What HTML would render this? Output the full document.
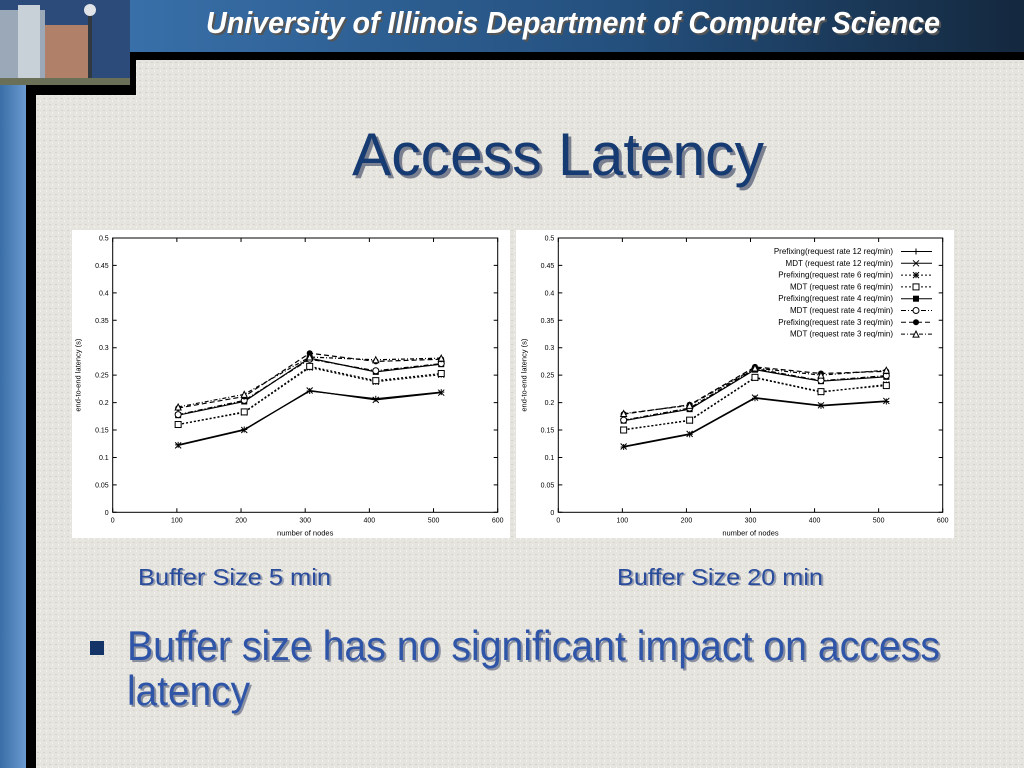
<!DOCTYPE html>
<html><head><meta charset="utf-8"><style>
html,body{margin:0;padding:0;width:1024px;height:768px;overflow:hidden;background:#e6e4de}
svg{display:block}
text{font-family:"Liberation Sans Narrow","Liberation Sans",sans-serif}
</style></head><body>
<svg id="slide" width="1024" height="768" viewBox="0 0 1024 768">
<defs>
<linearGradient id="hdr" x1="0" x2="1"><stop offset="0" stop-color="#3e78b4"/><stop offset="0.6" stop-color="#24507e"/><stop offset="1" stop-color="#14283e"/></linearGradient>
<linearGradient id="lstrip" x1="0" x2="1"><stop offset="0" stop-color="#3a6ea6"/><stop offset="1" stop-color="#6a9ad0"/></linearGradient>
<pattern id="tex" width="6" height="6" patternUnits="userSpaceOnUse"><rect width="6" height="6" fill="#e6e4de"/><rect x="1" y="2" width="2" height="1" fill="#d6d3cb"/><rect x="4" y="4" width="1" height="2" fill="#f2f1ec"/></pattern>
</defs>
<rect width="1024" height="768" fill="url(#tex)"/>
<rect x="0" y="0" width="1024" height="52" fill="url(#hdr)"/>
<rect x="130" y="52" width="894" height="8" fill="#000"/>
<rect x="0" y="85" width="26" height="683" fill="url(#lstrip)"/>
<rect x="26" y="85" width="10" height="683" fill="#000"/>
<rect x="26" y="85" width="44" height="10" fill="#000"/>
<rect x="60" y="52" width="76" height="43" fill="#000"/>
<g>
<rect x="0" y="0" width="130" height="85" fill="#2c4a7a"/>
<rect x="0" y="10" width="45" height="70" fill="#9aa8b8"/>
<rect x="18" y="5" width="22" height="75" fill="#c8d0d8"/>
<rect x="45" y="25" width="45" height="55" fill="#b08068"/>
<rect x="88" y="8" width="4" height="75" fill="#303840"/>
<circle cx="90" cy="10" r="6" fill="#e0e4e8"/>
<rect x="0" y="78" width="130" height="7" fill="#6a7058"/>
</g>
<text x="206" y="33" font-size="31" font-weight="bold" font-style="italic" fill="#555" textLength="734" lengthAdjust="spacingAndGlyphs" transform="translate(2,2)">University of Illinois Department of Computer Science</text>
<text x="206" y="33" font-size="31" font-weight="bold" font-style="italic" fill="#fff" textLength="734" lengthAdjust="spacingAndGlyphs">University of Illinois Department of Computer Science</text>
<text x="355" y="178" font-size="60" fill="#7a8090" textLength="412" lengthAdjust="spacingAndGlyphs">Access Latency</text>
<text x="352" y="175" font-size="60" fill="#163a72" textLength="412" lengthAdjust="spacingAndGlyphs">Access Latency</text>
<rect x="72" y="230" width="438" height="308" fill="#fff"/>
<rect x="516" y="230" width="438" height="308" fill="#fff"/>
<g id="chartL"></g>
<g id="chartR"></g>
<text x="139" y="585" font-size="23" fill="#9aa0b0" textLength="193" lengthAdjust="spacingAndGlyphs" transform="translate(1,1)">Buffer Size 5 min</text>
<text x="138" y="585" font-size="23" fill="#2a4c9c" textLength="193" lengthAdjust="spacingAndGlyphs">Buffer Size 5 min</text>
<text x="618" y="585" font-size="23" fill="#9aa0b0" textLength="206" lengthAdjust="spacingAndGlyphs" transform="translate(1,1)">Buffer Size 20 min</text>
<text x="617" y="585" font-size="23" fill="#2a4c9c" textLength="206" lengthAdjust="spacingAndGlyphs">Buffer Size 20 min</text>
<rect x="90" y="641" width="14" height="14" fill="#143468"/>
<g fill="#8a90a0" transform="translate(2,2)">
<text x="127" y="660" font-size="42" textLength="813" lengthAdjust="spacingAndGlyphs">Buffer size has no significant impact on access</text>
<text x="127" y="705" font-size="42" textLength="123" lengthAdjust="spacingAndGlyphs">latency</text></g>
<g fill="#2f55a8">
<text x="127" y="660" font-size="42" textLength="813" lengthAdjust="spacingAndGlyphs">Buffer size has no significant impact on access</text>
<text x="127" y="705" font-size="42" textLength="123" lengthAdjust="spacingAndGlyphs">latency</text></g>
</svg>
<script>
const nodes=[102,205,307,410,512];
const xTicks=[0,100,200,300,400,500,600];
const yTicks=[0,0.05,0.1,0.15,0.2,0.25,0.3,0.35,0.4,0.45,0.5];
const yTickLabels=["0","0.05","0.1","0.15","0.2","0.25","0.3","0.35","0.4","0.45","0.5"];
const seriesNames=["Prefixing(request rate 12 req/min)","MDT (request rate 12 req/min)","Prefixing(request rate 6 req/min)","MDT (request rate 6 req/min)","Prefixing(request rate 4 req/min)","MDT (request rate 4 req/min)","Prefixing(request rate 3 req/min)","MDT (request rate 3 req/min)"];
const leftPre12=[0.123,0.151,0.221,0.207,0.219];
const leftMdt12=[0.122,0.150,0.222,0.205,0.218];
const leftPre6=[0.160,0.182,0.264,0.238,0.251];
const leftMdt6=[0.160,0.183,0.266,0.240,0.253];
const leftPre4=[0.177,0.202,0.281,0.256,0.270];
const leftMdt4=[0.178,0.204,0.279,0.258,0.271];
const leftPre3=[0.190,0.211,0.290,0.275,0.279];
const leftMdt3=[0.192,0.215,0.283,0.278,0.281];
const rightPre12=[0.119,0.142,0.208,0.194,0.202];
const rightMdt12=[0.120,0.143,0.209,0.195,0.203];
const rightPre6=[0.151,0.167,0.245,0.219,0.233];
const rightMdt6=[0.150,0.168,0.246,0.220,0.231];
const rightPre4=[0.167,0.188,0.260,0.239,0.247];
const rightMdt4=[0.168,0.190,0.262,0.240,0.249];
const rightPre3=[0.179,0.196,0.265,0.253,0.257];
const rightMdt3=[0.180,0.195,0.263,0.250,0.259];
const NS="http://www.w3.org/2000/svg";
const dashes=["","","2,2","2,2","","5,2,1,2","5,3","4,2,1,2"];
const marks=["plus","x","star","sq","fsq","circ","fcirc","tri"];
function mk(tag,attrs,parent){const e=document.createElementNS(NS,tag);for(const k in attrs)e.setAttribute(k,attrs[k]);parent.appendChild(e);return e;}
function marker(g,t,x,y){
  const s=3;let e;
  if(t=="plus")e=mk("path",{d:`M${x-s} ${y}H${x+s}M${x} ${y-s}V${y+s}`,stroke:"#000",fill:"none"},g);
  else if(t=="x")e=mk("path",{d:`M${x-s} ${y-s}L${x+s} ${y+s}M${x-s} ${y+s}L${x+s} ${y-s}`,stroke:"#000",fill:"none"},g);
  else if(t=="star")e=mk("path",{d:`M${x-s} ${y}H${x+s}M${x} ${y-s}V${y+s}M${x-s} ${y-s}L${x+s} ${y+s}M${x-s} ${y+s}L${x+s} ${y-s}`,stroke:"#000",fill:"none"},g);
  else if(t=="sq")e=mk("rect",{x:x-s,y:y-s,width:2*s,height:2*s,stroke:"#000",fill:"#fff"},g);
  else if(t=="fsq")e=mk("rect",{x:x-s,y:y-s,width:2*s,height:2*s,fill:"#000"},g);
  else if(t=="circ")e=mk("circle",{cx:x,cy:y,r:s,stroke:"#000",fill:"#fff"},g);
  else if(t=="fcirc")e=mk("circle",{cx:x,cy:y,r:s,fill:"#000"},g);
  else e=mk("path",{d:`M${x} ${y-s}L${x+s} ${y+s}H${x-s}Z`,stroke:"#000",fill:"#fff"},g);
  
  
}
function draw(id,x0,x1,series,legend){
  const g=document.getElementById(id);
  const y0=512.3,y1=238;
  const sx=v=>x0+(x1-x0)*v/600, sy=v=>y0-(y0-y1)*v/0.5;
  const frame=mk("rect",{x:x0,y:y1,width:x1-x0,height:y0-y1,fill:"none",stroke:"#000","stroke-width":1},g);
  
  
  yTicks.forEach((v,i)=>{
    mk("path",{d:`M${x0} ${sy(v)}h4M${x1} ${sy(v)}h-4`,stroke:"#000"},g);
    const t=mk("text",{x:x0-4,y:sy(v)+2.5,"font-size":7,"text-anchor":"end",fill:"#000"},g);
    t.textContent=yTickLabels[i];
    
    
  });
  xTicks.forEach(v=>{
    mk("path",{d:`M${sx(v)} ${y0}v-4M${sx(v)} ${y1}v4`,stroke:"#000"},g);
    const t=mk("text",{x:sx(v),y:y0+10,"font-size":7,"text-anchor":"middle",fill:"#000"},g);
    t.textContent=v;
    
    
  });
  const xt=mk("text",{x:(x0+x1)/2,y:y0+23,"font-size":7.5,"text-anchor":"middle",fill:"#000"},g);
  xt.textContent="number of nodes";
  
  
  const yt=mk("text",{x:0,y:0,"font-size":7.5,"text-anchor":"middle",fill:"#000",transform:`translate(${x0-32},${(y0+y1)/2}) rotate(-90)`},g);
  yt.textContent="end-to-end latency (s)";
  
  
  series.forEach((vals,i)=>{
    const d=vals.map((v,j)=>(j?"L":"M")+sx(nodes[j])+" "+sy(v)).join("");
    const p=mk("path",{d:d,fill:"none",stroke:"#000","stroke-width":1.2,"stroke-dasharray":dashes[i]},g);
    
    
    vals.forEach((v,j)=>marker(g,marks[i],sx(nodes[j]),sy(v)));
  });
  if(legend){
    seriesNames.forEach((n,i)=>{
      const y=251.5+i*11.8;
      const t=mk("text",{x:893,y:y+2.5,"font-size":8,"text-anchor":"end",fill:"#000"},g);
      t.textContent=n;
      
      
      mk("path",{d:`M901 ${y}H932`,stroke:"#000","stroke-dasharray":dashes[i]},g);
      marker(g,marks[i],916,y);
    });
  }
}
draw("chartL",112.7,497.7,[leftPre12,leftMdt12,leftPre6,leftMdt6,leftPre4,leftMdt4,leftPre3,leftMdt3],false);
draw("chartR",558.3,942.7,[rightPre12,rightMdt12,rightPre6,rightMdt6,rightPre4,rightMdt4,rightPre3,rightMdt3],true);
</script>
</body></html>
